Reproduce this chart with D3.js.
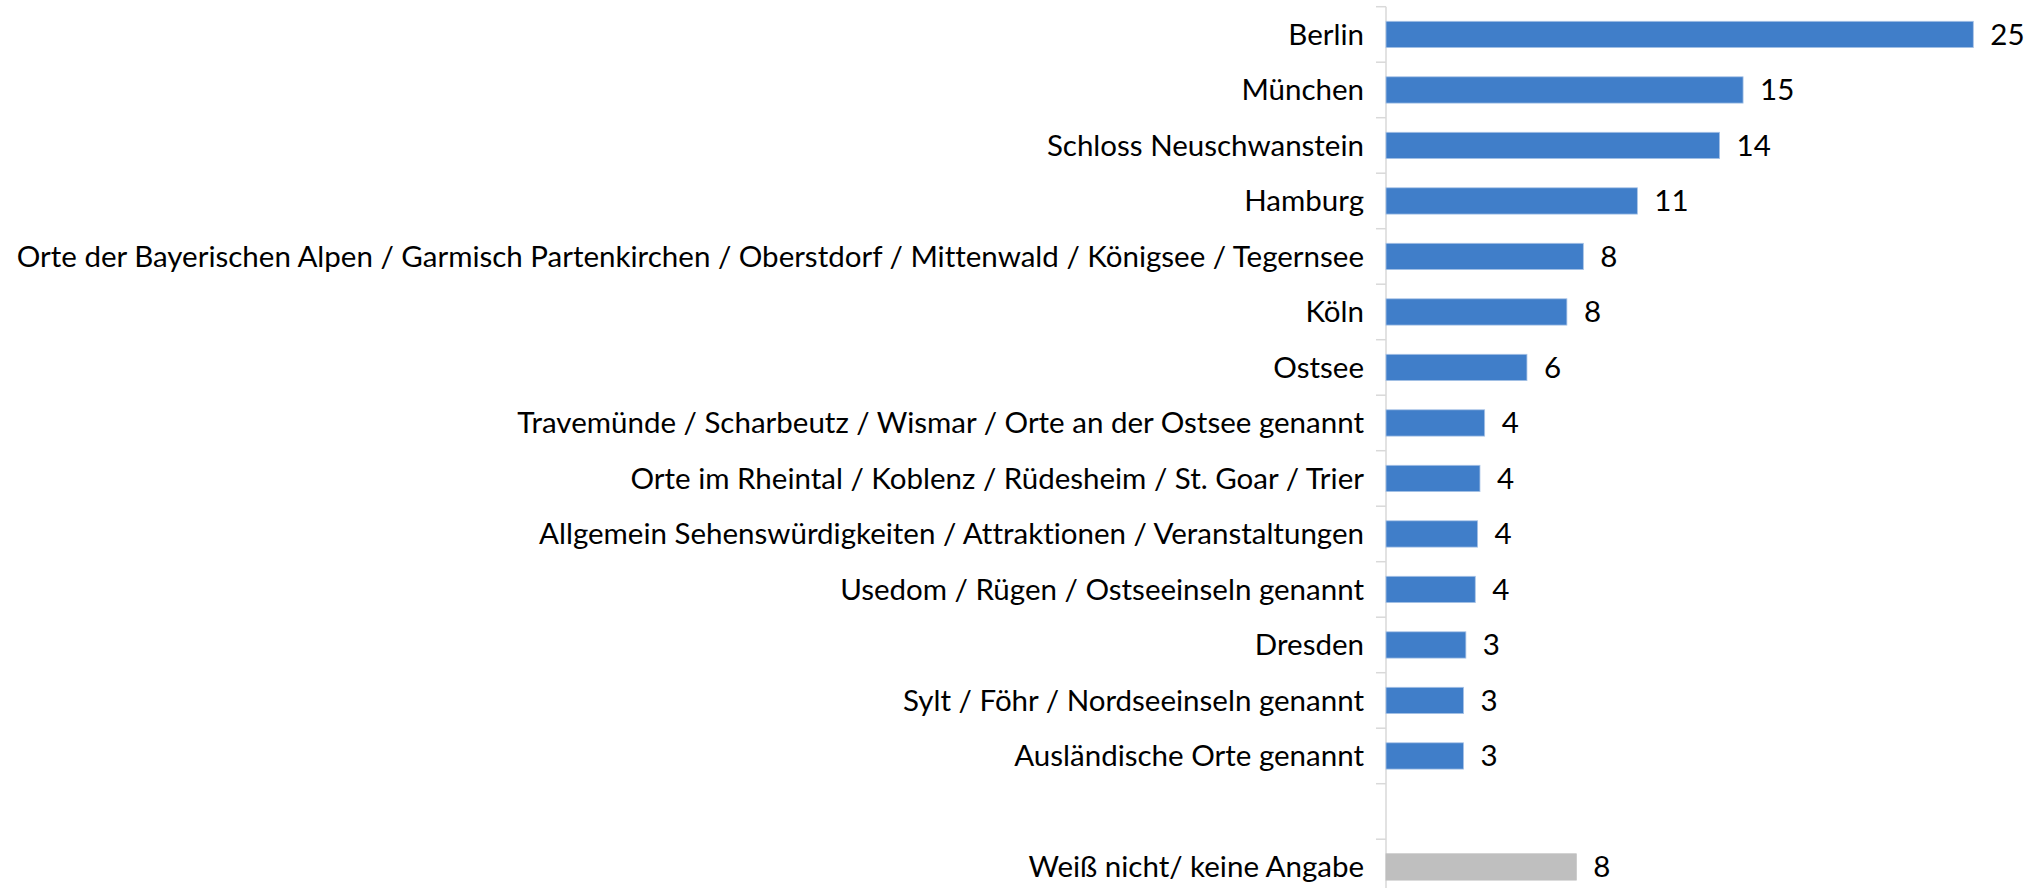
<!DOCTYPE html>
<html>
<head>
<meta charset="utf-8">
<script src="https://cdn.jsdelivr.net/npm/d3@7"></script>
<style>
  html, body { margin: 0; padding: 0; background: #fff; }
  svg { display: block; }
  text { font-variant-ligatures: none; font-feature-settings: "liga" 0; }
</style>
</head>
<body>
<div id="chart"></div>
<script>
// ── Data ─────────────────────────────────────────────────────────
const categories = [
  'Berlin',
  'München',
  'Schloss Neuschwanstein',
  'Hamburg',
  'Orte der Bayerischen Alpen / Garmisch Partenkirchen / Oberstdorf / Mittenwald / Königsee / Tegernsee',
  'Köln',
  'Ostsee',
  'Travemünde / Scharbeutz / Wismar / Orte an der Ostsee genannt',
  'Orte im Rheintal / Koblenz / Rüdesheim / St. Goar / Trier',
  'Allgemein Sehenswürdigkeiten / Attraktionen / Veranstaltungen',
  'Usedom / Rügen / Ostseeinseln genannt',
  'Dresden',
  'Sylt / Föhr / Nordseeinseln genannt',
  'Ausländische Orte genannt'
];
const values = [25.0, 15.2, 14.2, 10.7, 8.4, 7.7, 6.0, 4.2, 4.0, 3.9, 3.8, 3.4, 3.3, 3.3];

const otherCategories = ['Weiß nicht/ keine Angabe'];
const otherValues = [8.1];

// ── Layout ───────────────────────────────────────────────────────
const W = 2025, H = 888;
const axisX = 1386;
const FONT = 'Lato, "Open Sans", sans-serif';
const FONT_SIZE = 29.5;

const rows = [
  ...categories.map((c, i) => ({ key: c, label: c, value: values[i], other: false })),
  { key: '__gap__', label: '', value: null, other: false },
  ...otherCategories.map((c, i) => ({ key: c, label: c, value: otherValues[i], other: true }))
];

const svg = d3.select('#chart').append('svg')
  .attr('width', W)
  .attr('height', H);

const x = d3.scaleLinear()
  .domain([0, d3.max(values)])
  .range([axisX, 1973.3]);

const y = d3.scaleBand()
  .domain(rows.map(r => r.key))
  .range([6.7, 6.7 + 55.5 * rows.length])
  .paddingInner(0)
  .paddingOuter(0);

const bw = y.bandwidth();
const barH = bw * 0.474;

// ── Axis line + tick marks at category boundaries ────────────────
const axisG = svg.append('g');
axisG.append('line')
  .attr('x1', axisX).attr('x2', axisX)
  .attr('y1', y.range()[0]).attr('y2', y.range()[1])
  .attr('stroke', '#d9d9d9')
  .attr('stroke-width', 1.5);

const boundaries = rows.map(r => y(r.key)).concat([y.range()[1]]);
axisG.selectAll('line.tick')
  .data(boundaries)
  .enter()
  .append('line')
  .attr('class', 'tick')
  .attr('x1', axisX - 10).attr('x2', axisX)
  .attr('y1', d => d).attr('y2', d => d)
  .attr('stroke', '#d9d9d9')
  .attr('stroke-width', 1.5);

// ── Bars ─────────────────────────────────────────────────────────
const dataRows = rows.filter(r => r.value != null);

svg.append('g').selectAll('rect')
  .data(dataRows)
  .enter()
  .append('rect')
  .attr('x', x(0))
  .attr('y', d => y(d.key) + (bw - barH) / 2)
  .attr('width', d => x(d.value) - x(0))
  .attr('height', barH)
  .attr('fill', d => d.other ? '#bfbfbf' : '#407ec9')
  .attr('stroke', d => d.other ? '#bfbfbf' : '#a8c3e6')
  .attr('stroke-width', 0.8);

// ── Category labels ──────────────────────────────────────────────
svg.append('g').selectAll('text')
  .data(rows.filter(r => r.label))
  .enter()
  .append('text')
  .attr('x', axisX - 22)
  .attr('y', d => y(d.key) + bw / 2)
  .attr('dy', '0.35em')
  .attr('text-anchor', 'end')
  .attr('font-family', FONT)
  .attr('font-size', FONT_SIZE)
  .attr('fill', '#000')
  .text(d => d.label);

// ── Value labels ─────────────────────────────────────────────────
svg.append('g').selectAll('text')
  .data(dataRows)
  .enter()
  .append('text')
  .attr('x', d => x(d.value) + 17)
  .attr('y', d => y(d.key) + bw / 2)
  .attr('dy', '0.35em')
  .attr('font-family', FONT)
  .attr('font-size', FONT_SIZE)
  .attr('fill', '#000')
  .text(d => d3.format('.0f')(d.value));
</script>
</body>
</html>
